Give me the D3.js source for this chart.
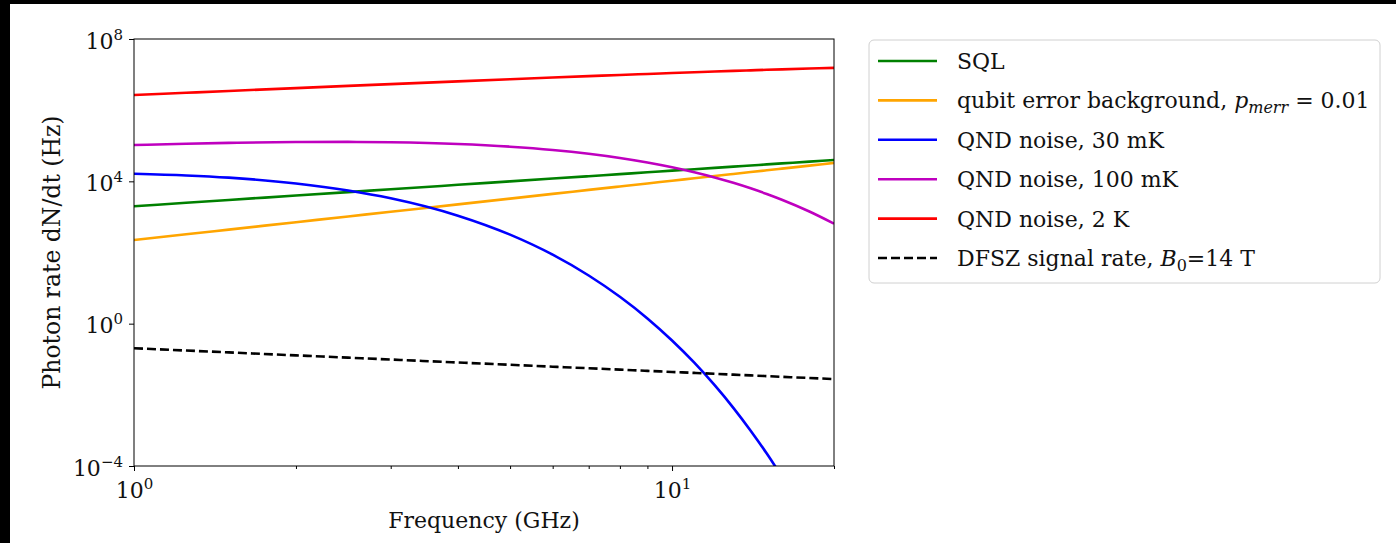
<!DOCTYPE html>
<html>
<head>
<meta charset="utf-8">
<script src="https://cdn.jsdelivr.net/npm/d3@7"></script>
<style>
  html, body { margin: 0; padding: 0; background: #000; }
  svg { display: block; }
  text { font-family: "DejaVu Serif", "Liberation Serif", serif; fill: #111; }
</style>
</head>
<body>
<svg id="chart" width="1396" height="543"></svg>
<script>
(function(){
    // frequency grid (GHz) and log10 of photon rate (Hz)
    var freqs    = [1, 1.25, 1.5, 2, 2.5, 3, 4, 5, 6, 7, 8, 9, 10, 11, 12, 13, 14, 15, 16, 18, 20];
    var sqlLog   = [3.300, 3.397, 3.476, 3.601, 3.698, 3.777, 3.902, 3.999, 4.078, 4.145, 4.203, 4.254, 4.300, 4.341, 4.379, 4.414, 4.446, 4.476, 4.504, 4.555, 4.601];
    var qubitLog = [2.350, 2.512, 2.643, 2.852, 3.013, 3.145, 3.353, 3.515, 3.647, 3.759, 3.855, 3.940, 4.017, 4.086, 4.149, 4.207, 4.260, 4.310, 4.357, 4.442, 4.518];
    var qnd30Log = [4.213, 4.166, 4.103, 3.940, 3.744, 3.524, 3.035, 2.501, 1.938, 1.354, 0.756, 0.148, -0.472, -1.096, -1.729, -2.365, -3.008, -3.651, -4.301, -5.603, -6.917];
    var qnd100Log= [5.020, 5.057, 5.081, 5.105, 5.108, 5.097, 5.049, 4.974, 4.882, 4.775, 4.657, 4.530, 4.396, 4.255, 4.109, 3.958, 3.803, 3.644, 3.482, 3.151, 2.810];
    var qnd2kLog = [6.425, 6.488, 6.540, 6.620, 6.682, 6.732, 6.810, 6.870, 6.917, 6.956, 6.990, 7.018, 7.043, 7.066, 7.085, 7.103, 7.119, 7.134, 7.147, 7.170, 7.189];
    var dfszLog  = [-0.690, -0.755, -0.807, -0.891, -0.955, -1.008, -1.091, -1.156, -1.209, -1.253, -1.292, -1.326, -1.357, -1.384, -1.409, -1.433, -1.454, -1.474, -1.493, -1.527, -1.557];

    var xMajor = [1, 10];
    var xMinor = [2, 3, 4, 5, 6, 7, 8, 9, 20];
    var yMajor = [1e-4, 1, 1e4, 1e8];

    var W = 1396, H = 543;
    var m = {left: 134, top: 39, right: 834, bottom: 466};

    var svg = d3.select('#chart');

    // white figure area (black strip top/left as in the screenshot)
    svg.append('rect')
        .attr('x', 10).attr('y', 4)
        .attr('width', W - 10).attr('height', H - 4)
        .attr('fill', '#fff');

    var x = d3.scaleLog().domain([1, 20]).range([m.left, m.right]);
    var y = d3.scaleLog().domain([1e-4, 1e8]).range([m.bottom, m.top]);

    var series = [
        {label: 'sql',   color: '#008000', dash: null,  vals: sqlLog},
        {label: 'qubit', color: '#ffa500', dash: null,  vals: qubitLog},
        {label: 'q30',   color: '#0000ff', dash: null,  vals: qnd30Log},
        {label: 'q100',  color: '#bf00bf', dash: null,  vals: qnd100Log},
        {label: 'q2k',   color: '#ff0000', dash: null,  vals: qnd2kLog},
        {label: 'dfsz',  color: '#000000', dash: '9,4', vals: dfszLog}
    ];

    svg.append('clipPath').attr('id', 'plotclip')
        .append('rect')
        .attr('x', m.left).attr('y', m.top)
        .attr('width', m.right - m.left).attr('height', m.bottom - m.top);

    var line = d3.line()
        .curve(d3.curveMonotoneX)
        .x(function(d){ return x(d[0]); })
        .y(function(d){ return y(d[1]); });

    var plot = svg.append('g').attr('clip-path', 'url(#plotclip)');
    series.forEach(function(s){
        var pts = freqs.map(function(f, i){ return [f, Math.pow(10, s.vals[i])]; });
        plot.append('path')
            .datum(pts)
            .attr('d', line)
            .attr('fill', 'none')
            .attr('stroke', s.color)
            .attr('stroke-width', 2.6)
            .attr('stroke-dasharray', s.dash);
    });

    // frame
    svg.append('rect')
        .attr('x', m.left).attr('y', m.top)
        .attr('width', m.right - m.left).attr('height', m.bottom - m.top)
        .attr('fill', 'none').attr('stroke', '#000').attr('stroke-width', 1);

    function powLabel(sel){
        sel.each(function(d){
            var t = d3.select(this).text(null);
            var e = Math.round(Math.log10(d));
            t.append('tspan').text('10');
            t.append('tspan').attr('dy', -9).attr('font-size', 15)
                .text(e < 0 ? '\u2212' + (-e) : e);
        });
    }

    // x axis
    var gx = svg.append('g').attr('transform', 'translate(0,' + m.bottom + ')')
        .call(d3.axisBottom(x).tickValues(xMajor).tickSize(5).tickPadding(6).tickFormat(function(){ return ''; }));
    gx.select('.domain').remove();
    gx.selectAll('.tick text').attr('font-size', 22).attr('dy', '0.95em').call(powLabel);

    var gxm = svg.append('g').attr('transform', 'translate(0,' + m.bottom + ')')
        .call(d3.axisBottom(x).tickValues(xMinor).tickSize(3).tickFormat(''));
    gxm.select('.domain').remove();

    // y axis
    var gy = svg.append('g').attr('transform', 'translate(' + m.left + ',0)')
        .call(d3.axisLeft(y).tickValues(yMajor).tickSize(5).tickPadding(6).tickFormat(function(){ return ''; }));
    gy.select('.domain').remove();
    gy.selectAll('.tick text').attr('font-size', 22).attr('dy', '0.42em').call(powLabel);

    svg.selectAll('.tick line').attr('stroke', '#000');
    svg.selectAll('.tick text').attr('font-family', '"DejaVu Serif", serif').attr('fill', '#111');

    // axis titles
    svg.append('text')
        .attr('x', (m.left + m.right) / 2).attr('y', 528)
        .attr('text-anchor', 'middle').attr('font-size', 22)
        .text('Frequency (GHz)');

    svg.append('text')
        .attr('transform', 'translate(60,' + ((m.top + m.bottom) / 2) + ') rotate(-90)')
        .attr('text-anchor', 'middle').attr('font-size', 23.5)
        .text('Photon rate dN/dt (Hz)');

    // legend
    var lg = svg.append('g').attr('transform', 'translate(869,40)');
    lg.append('rect')
        .attr('width', 511).attr('height', 243).attr('rx', 5)
        .attr('fill', '#fff').attr('stroke', '#d0d0d0').attr('stroke-width', 1);

    var rowH = 39.4;
    series.forEach(function(s, i){
        var cy = 21 + i * rowH;
        lg.append('line')
            .attr('x1', 9).attr('x2', 68).attr('y1', cy).attr('y2', cy)
            .attr('stroke', s.color).attr('stroke-width', 2.6)
            .attr('stroke-dasharray', s.dash);
        var t = lg.append('text').attr('x', 88).attr('y', cy + 8).attr('font-size', 22);
        if (s.label === 'sql') {
            t.text('SQL');
        } else if (s.label === 'qubit') {
            t.append('tspan').text('qubit error background, ');
            t.append('tspan').attr('font-style', 'italic').text('p');
            t.append('tspan').attr('font-style', 'italic').attr('font-size', 16).attr('dy', 5).text('merr');
            t.append('tspan').attr('dy', -5).text(' = 0.01');
        } else if (s.label === 'q30') {
            t.text('QND noise, 30 mK');
        } else if (s.label === 'q100') {
            t.text('QND noise, 100 mK');
        } else if (s.label === 'q2k') {
            t.text('QND noise, 2 K');
        } else {
            t.append('tspan').text('DFSZ signal rate, ');
            t.append('tspan').attr('font-style', 'italic').text('B');
            t.append('tspan').attr('font-size', 16).attr('dy', 5).text('0');
            t.append('tspan').attr('dy', -5).text('=14 T');
        }
    });
})();
</script>
</body>
</html>
